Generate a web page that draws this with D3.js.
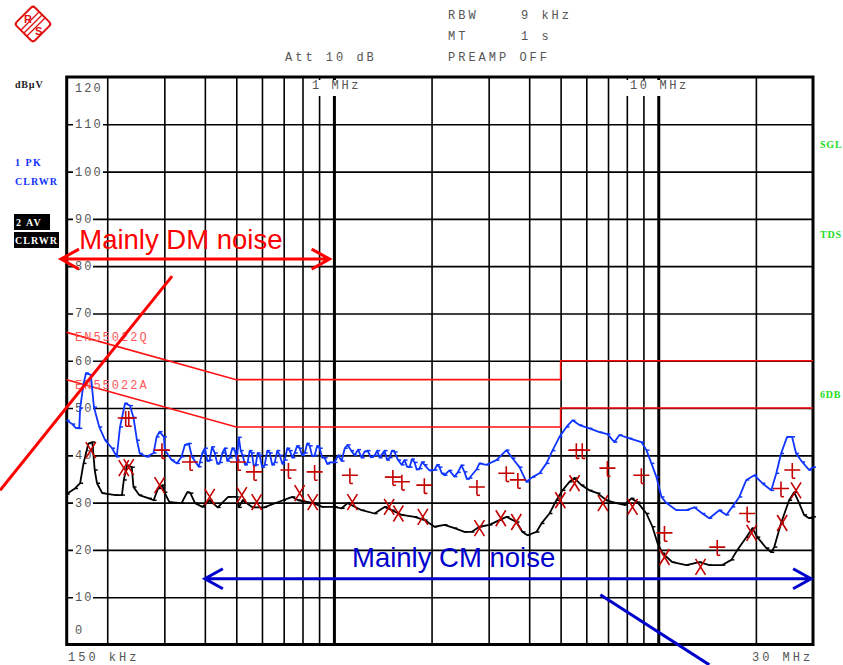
<!DOCTYPE html>
<html>
<head>
<meta charset="utf-8">
<script src="https://cdn.jsdelivr.net/npm/d3@7"></script>
<style>
  html, body { margin: 0; padding: 0; background: #fff; }
  svg { display: block; }
  .mono { font-family: "Liberation Mono", "DejaVu Sans Mono", monospace; fill: #555; }
</style>
</head>
<body>
<div id="chart"></div>
<script>
// EMI scan, 150 kHz .. 30 MHz, levels in dBuV
const freqRange = [0.15, 30];
const levelRange = [0, 120];
const freqGrid = [0.2, 0.3, 0.4, 0.5, 0.6, 0.7, 0.8, 0.9, 1, 2, 3, 4, 5, 6, 7, 8, 9, 10, 20];
const levelTicks = [0, 10, 20, 30, 40, 50, 60, 70, 80, 90, 100, 110, 120];

// trace 1 : peak (blue)
const pkFreq = [0.150,0.156,0.160,0.164,0.165,0.169,0.172,0.178,0.182,0.189,0.197,0.207,0.214,0.219,0.227,0.235,0.241,0.247,0.252,0.265,0.278,0.284,0.290,0.299,0.301,0.316,0.328,0.339,0.347,0.357,0.365,0.383,
  0.386,0.393,0.400,0.407,0.414,0.421,0.429,0.437,0.445,0.453,0.461,0.469,0.477,0.486,0.495,0.502,0.509,0.516,0.523,0.532,0.542,0.550,0.558,0.566,0.574,0.582,0.590,0.601,0.612,0.623,0.634,0.645,0.657,0.669,0.681,0.693,0.705,0.718,0.731,0.744,0.757,0.770,0.784,0.798,0.813,0.827,0.842,0.857,0.872,0.888,0.904,0.920,0.936,0.953,0.970,
  1.005,1.030,1.056,1.080,1.102,1.130,1.158,1.187,1.217,1.243,1.270,1.300,1.335,1.360,1.383,1.408,1.433,1.458,1.484,1.510,1.538,1.577,1.617,1.651,1.680,1.711,1.740,1.773,1.800,1.836,1.870,1.903,1.970,2.042,2.080,2.115,2.150,2.192,2.270,2.353,2.410,2.473,2.526,2.570,2.617,
  2.751,2.810,2.953,3.170,3.404,3.552,3.733,3.923,4.094,4.303,4.522,4.718,4.959,5.212,5.438,5.715,6.135,6.587,6.971,7.326,7.591,8.150,8.874,9.195,9.527,9.871,
  10.23,10.60,11.38,12.21,12.92,13.68,14.37,15.43,16.22,16.92,17.78,18.69,19.78,20.93,22.31,23.12,23.92,24.96,25.86,26.61,27.78,29.18,30.0];
const pkLevel = [47.4,46.6,45.8,45.7,50.0,55.0,57.4,57.0,50.2,46.0,43.2,41.5,39.7,46.0,51.0,50.5,48.0,43.2,40.4,39.7,40.5,43.9,45.0,43.9,41.1,39.0,38.3,39.7,42.2,42.5,39.7,37.6,
  38.5,40.5,41.5,38.8,39.0,41.8,40.5,38.2,38.5,40.5,41.5,38.8,39.5,41.5,41.0,39.0,43.8,41.0,40.0,38.0,38.5,41.0,40.5,37.8,38.0,40.5,40.0,37.5,38.0,41.0,40.5,38.0,38.5,41.0,40.0,38.2,39.0,41.5,41.0,39.5,40.5,42.0,41.5,40.0,40.5,42.5,42.0,39.8,40.0,42.0,41.5,39.5,39.5,38.2,38.5,
  38.5,40.0,38.8,41.5,42.2,41.0,40.0,41.2,39.5,40.8,41.0,39.6,40.0,41.0,39.5,40.3,41.0,39.0,39.5,41.0,40.7,39.0,38.0,39.0,37.6,37.5,39.2,38.5,37.0,37.2,38.6,38.0,36.8,36.9,38.0,37.5,36.2,35.8,36.8,35.5,36.4,37.9,36.5,35.0,35.2,
  37.0,38.3,38.0,39.0,41.1,39.4,37.5,34.4,35.4,36.2,38.3,41.0,43.9,46.0,47.4,46.4,45.7,44.9,44.5,42.8,44.3,43.6,42.8,41.1,38.3,35.4,
  31.2,29.9,28.4,28.4,29.0,27.7,26.7,28.4,27.4,29.1,31.2,34.8,35.8,34.1,32.6,36.2,40.4,43.9,43.9,40.4,38.6,36.9,37.5];

// trace 2 : average (black)
const avFreq = [0.150,0.159,0.165,0.169,0.175,0.180,0.183,0.186,0.193,0.212,0.222,0.225,0.230,0.238,0.241,0.251,0.269,0.278,0.287,0.296,0.300,0.311,0.339,0.353,0.361,0.373,0.393,0.414,0.438,0.472,0.501,0.509,0.523,0.561,0.609,0.697,0.744,0.776,0.866,0.920,
  1.005,1.056,1.102,1.217,1.335,1.433,1.507,1.617,1.773,1.903,2.042,2.192,2.353,2.526,2.655,2.810,3.016,3.238,3.404,3.654,3.813,3.951,4.212,4.364,4.619,4.854,5.066,5.324,5.516,5.797,6.135,6.494,6.922,7.431,7.866,8.266,8.625,9.195,9.594,9.941,
  10.30,11.06,12.21,13.39,14.37,15.76,16.80,17.53,18.69,19.50,20.20,21.53,22.31,22.79,23.92,25.32,26.24,27.19,28.16,29.18,30.0];
const avLevel = [31.8,33.0,34.1,38.3,42.5,42.8,36.9,34.1,32.0,31.6,31.6,34.8,37.9,37.5,33.3,31.6,30.9,30.5,33.0,33.7,32.2,30.1,29.9,32.2,32.0,29.9,29.1,30.5,29.0,31.2,31.2,29.0,30.5,29.0,29.0,30.5,31.2,30.5,29.9,29.1,
  29.1,28.8,29.9,28.4,27.7,29.1,28.4,27.4,27.0,26.3,24.9,25.3,24.6,23.8,23.8,24.9,25.3,26.3,27.0,25.9,23.8,23.1,23.8,25.6,27.7,30.5,32.6,34.4,35.2,33.7,32.6,32.0,30.5,29.9,29.5,30.9,30.1,27.7,24.9,21.5,
  19.3,17.4,16.8,17.4,16.8,16.8,17.9,20.0,22.7,24.6,22.7,20.4,19.5,20.6,25.7,30.5,32.2,29.9,27.4,26.7,27.0];

// limit lines
const qpLimitFreq = [0.15, 0.5, 5, 5, 30];
const qpLimitLevel = [66, 56, 56, 60, 60];
const avLimitFreq = [0.15, 0.5, 5, 5, 30];
const avLimitLevel = [56, 46, 46, 50, 50];

// final measurement markers
const qpMarkFreq = [0.228,0.233,0.295,0.360,0.506,0.567,0.724,0.872,1.12,1.52,1.62,1.90,2.76,3.40,3.69,5.59,5.83,6.97,8.87,10.45,15.2,18.8,23.9,25.9];
const qpMarkLevel = [47.9,47.9,41.1,38.6,38.6,36.5,36.9,36.5,35.8,35.4,34.4,33.7,33.3,36.2,34.8,41.1,41.1,37.3,35.8,23.6,20.6,27.7,33.0,36.9];
const avMarkFreq = [0.178,0.225,0.233,0.290,0.414,0.520,0.578,0.784,0.860,1.14,1.48,1.58,1.88,2.81,3.27,3.65,4.99,5.52,6.75,8.33,10.45,13.5,19.4,24.1,26.6];
const avMarkLevel = [41.1,37.3,37.5,33.7,31.2,31.6,30.1,32.0,30.1,30.1,29.1,27.7,27.0,24.6,26.7,25.9,30.5,34.1,29.9,29.1,18.5,16.4,23.6,25.7,32.6];

const W = 843, H = 665;
const plotL = 66.7, plotR = 813, plotT = 77, plotB = 644.5;

const svg = d3.select("#chart").append("svg").attr("width", W).attr("height", H);

const x = d3.scaleLog().domain(freqRange).range([plotL, plotR]);
const y = d3.scaleLinear().domain(levelRange).range([plotB, plotT]);

// vertical grid
svg.append("g")
  .attr("transform", "translate(0," + plotT + ")")
  .call(d3.axisTop(x).tickValues(freqGrid).tickSize(-(plotB - plotT)).tickFormat(""))
  .call(g => g.select(".domain").remove())
  .call(g => g.selectAll("line")
    .attr("stroke", "#000")
    .attr("stroke-width", d => (d === 1 || d === 10) ? 3 : 1.6));

// horizontal grid
svg.append("g")
  .attr("transform", "translate(" + plotL + ",0)")
  .call(d3.axisLeft(y).tickValues(levelTicks.filter(v => v > 0 && v < 120)).tickSize(-(plotR - plotL)).tickFormat(""))
  .call(g => g.select(".domain").remove())
  .call(g => g.selectAll("line").attr("stroke", "#000").attr("stroke-width", 1.6));

// frame
svg.append("rect")
  .attr("x", plotL).attr("y", plotT)
  .attr("width", plotR - plotL).attr("height", plotB - plotT)
  .attr("fill", "none").attr("stroke", "#000").attr("stroke-width", 3);

// level labels with white backing
levelTicks.forEach(v => {
  let by = y(v) + 4;
  if (v === 120) by = y(v) + 15;
  if (v === 0) by = y(v) - 11;
  svg.append("rect").attr("x", 73).attr("y", by - 9).attr("width", v >= 100 ? 30 : 20).attr("height", 10).attr("fill", "#fff");
  svg.append("text").attr("class", "mono")
    .attr("x", 75).attr("y", by)
    .attr("font-size", 12).attr("letter-spacing", 2)
    .text(v);
});

// frequency labels inside the plot
[[1, "1 MHz", 312], [10, "10 MHz", 630]].forEach(([f, t, tx]) => {
  svg.append("rect").attr("x", tx - 4).attr("y", 80).attr("width", t.length * 9.6 + 2).attr("height", 16).attr("fill", "#fff");
  svg.append("text").attr("class", "mono")
    .attr("x", tx).attr("y", 89)
    .attr("font-size", 12).attr("letter-spacing", 2.6)
    .text(t);
});

// limit lines
const line = d3.line().x(d => x(d[0])).y(d => y(d[1]));
[[qpLimitFreq, qpLimitLevel], [avLimitFreq, avLimitLevel]].forEach(([fs, ls]) => {
  svg.append("path")
    .datum(fs.map((f, i) => [f, ls[i]]))
    .attr("d", line)
    .attr("fill", "none").attr("stroke", "#ff1010").attr("stroke-width", 1.6);
});
svg.append("text").attr("class", "mono").attr("x", 75).attr("y", 341)
  .attr("font-size", 12).attr("letter-spacing", 2).style("fill", "#ff5a5a").text("EN55022Q");
svg.append("text").attr("class", "mono").attr("x", 75).attr("y", 389)
  .attr("font-size", 12).attr("letter-spacing", 2).style("fill", "#ff5a5a").text("EN55022A");

// traces
function drawTrace(fs, ls, color) {
  const pts = fs.map((f, i) => [f, ls[i]]);
  svg.append("path").datum(pts).attr("d", line)
    .attr("fill", "none").attr("stroke", color).attr("stroke-width", 1.8).attr("stroke-linejoin", "round");
  svg.append("g").selectAll("line").data(pts).join("line")
    .attr("x1", d => x(d[0])).attr("x2", d => x(d[0]) + 3)
    .attr("y1", d => y(d[1])).attr("y2", d => y(d[1]))
    .attr("stroke", color).attr("stroke-width", 1.5);
}
drawTrace(avFreq, avLevel, "#000");
drawTrace(pkFreq, pkLevel, "#0f35ff");

// markers
const markColor = "#c40000";
svg.append("g").selectAll("path").data(qpMarkFreq.map((f, i) => [f, qpMarkLevel[i]])).join("path")
  .attr("transform", d => "translate(" + x(d[0]) + "," + y(d[1]) + ")")
  .attr("d", "M-8,0H8M0,-7V7q0,2 3,1")
  .attr("fill", "none").attr("stroke", markColor).attr("stroke-width", 1.6);
svg.append("g").selectAll("path").data(avMarkFreq.map((f, i) => [f, avMarkLevel[i]])).join("path")
  .attr("transform", d => "translate(" + x(d[0]) + "," + y(d[1]) + ")")
  .attr("d", "M-5,-8L5,8M5,-8L-5,8")
  .attr("fill", "none").attr("stroke", markColor).attr("stroke-width", 1.6);

// header texts
const hdr = [["RBW", 448, 19], ["9 kHz", 521, 19], ["MT", 448, 40], ["1 s", 521, 40], ["PREAMP OFF", 448, 61], ["Att 10 dB", 285, 61]];
hdr.forEach(([t, tx, ty]) => {
  svg.append("text").attr("class", "mono").attr("x", tx).attr("y", ty)
    .attr("font-size", 12).attr("letter-spacing", 3).text(t);
});
svg.append("text").attr("class", "mono").attr("x", 68).attr("y", 661)
  .attr("font-size", 12).attr("letter-spacing", 3).text("150 kHz");
svg.append("text").attr("class", "mono").attr("x", 752).attr("y", 661)
  .attr("font-size", 12).attr("letter-spacing", 3).text("30 MHz");

// left side labels
const sideFont = "Liberation Serif, DejaVu Serif, serif";
svg.append("text").attr("x", 15).attr("y", 88).attr("font-family", sideFont).attr("font-weight", "bold")
  .attr("font-size", 10).attr("letter-spacing", 0.8).attr("fill", "#222").text("dBµV");
svg.append("text").attr("x", 15).attr("y", 166).attr("font-family", sideFont).attr("font-weight", "bold")
  .attr("font-size", 10).attr("letter-spacing", 1.5).attr("fill", "#1030ff").text("1 PK");
svg.append("text").attr("x", 15).attr("y", 185).attr("font-family", sideFont).attr("font-weight", "bold")
  .attr("font-size", 10).attr("letter-spacing", 1).attr("fill", "#1030ff").text("CLRWR");
svg.append("rect").attr("x", 14).attr("y", 214).attr("width", 36).attr("height", 16).attr("fill", "#000");
svg.append("rect").attr("x", 14).attr("y", 232).attr("width", 45).attr("height", 16).attr("fill", "#000");
svg.append("text").attr("x", 16).attr("y", 226).attr("font-family", sideFont).attr("font-weight", "bold")
  .attr("font-size", 10).attr("letter-spacing", 1.5).attr("fill", "#fff").text("2 AV");
svg.append("text").attr("x", 15).attr("y", 244).attr("font-family", sideFont).attr("font-weight", "bold")
  .attr("font-size", 10).attr("letter-spacing", 1).attr("fill", "#fff").text("CLRWR");

// right side labels
[["SGL", 148], ["TDS", 238], ["6DB", 398]].forEach(([t, ty]) => {
  svg.append("text").attr("x", 820).attr("y", ty).attr("font-family", sideFont).attr("font-weight", "bold")
    .attr("font-size", 10).attr("letter-spacing", 0.8).attr("fill", "#22dd22").text(t);
});

// R&S logo
const logo = svg.append("g").attr("transform", "translate(33,24)");
logo.append("rect").attr("x", -13).attr("y", -13).attr("width", 26).attr("height", 26).attr("rx", 3)
  .attr("transform", "rotate(45)").attr("fill", "none").attr("stroke", "#e01010").attr("stroke-width", 2);
[-3, 0, 3].forEach(o => {
  logo.append("line").attr("x1", -9 + o).attr("y1", 9 + o).attr("x2", 9 + o).attr("y2", -9 + o)
    .attr("stroke", "#e01010").attr("stroke-width", 1.2);
});
logo.append("text").attr("x", -9).attr("y", -1).attr("font-family", "Liberation Sans, Arial, sans-serif")
  .attr("font-weight", "bold").attr("font-size", 11).attr("fill", "#e01010").text("R");
logo.append("text").attr("x", 2).attr("y", 11).attr("font-family", "Liberation Sans, Arial, sans-serif")
  .attr("font-weight", "bold").attr("font-size", 11).attr("fill", "#e01010").text("S");

// annotations
const sans = "Liberation Sans, Arial, sans-serif";
function arrow(f1, f2, lvl, color) {
  const y0 = y(lvl), x1 = x(f1), x2 = x(f2);
  svg.append("path")
    .attr("d", "M" + x1 + "," + y0 + "H" + x2 +
      "M" + (x1 + 18) + "," + (y0 - 10) + "L" + x1 + "," + y0 + "L" + (x1 + 18) + "," + (y0 + 10) +
      "M" + (x2 - 18) + "," + (y0 - 10) + "L" + x2 + "," + y0 + "L" + (x2 - 18) + "," + (y0 + 10))
    .attr("fill", "none").attr("stroke", color).attr("stroke-width", 3);
}
svg.append("text").attr("x", x(0.164)).attr("y", y(83.6)).attr("font-family", sans)
  .attr("font-size", 27.5).attr("fill", "#ff0000").text("Mainly DM noise");
arrow(0.144, 0.97, 81.5, "#ff0000");
svg.append("line").attr("x1", x(0.317)).attr("y1", y(77.9)).attr("x2", x(0.0935)).attr("y2", y(32.6))
  .attr("stroke", "#ff0000").attr("stroke-width", 3);

svg.append("text").attr("x", x(1.137)).attr("y", y(16.4)).attr("font-family", sans)
  .attr("font-size", 27.5).attr("fill", "#0000cc").text("Mainly CM noise");
arrow(0.400, 29.6, 13.9, "#0000cc");
svg.append("line").attr("x1", x(6.63)).attr("y1", y(10.5)).attr("x2", x(14.37)).attr("y2", y(-4.3))
  .attr("stroke", "#0000cc").attr("stroke-width", 3);
</script>
</body>
</html>
